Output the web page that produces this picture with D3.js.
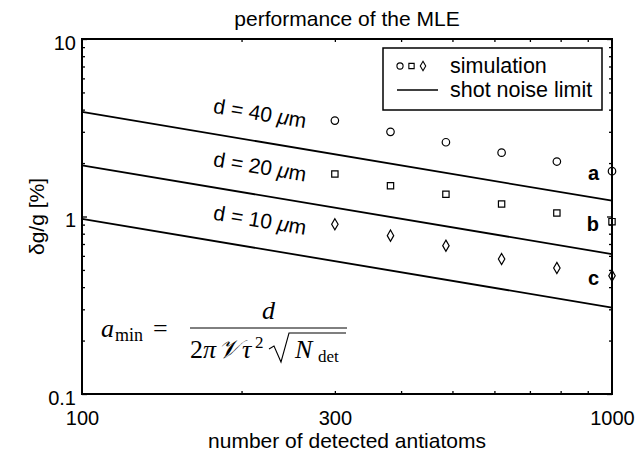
<!DOCTYPE html>
<html>
<head>
<meta charset="utf-8">
<script src="https://cdn.jsdelivr.net/npm/d3@7/dist/d3.min.js"></script>
<style>
  body { margin: 0; background: #fff; }
  svg text { font-family: "Liberation Sans", Arial, Helvetica, sans-serif; fill: #000; }
  svg text.math { font-family: "Liberation Serif", "DejaVu Serif", serif; }
</style>
</head>
<body>
<svg id="chart" width="636" height="454"></svg>
<script>
// ---- data ----
const chartTitle = "performance of the MLE";
const xAxisTitle = "number of detected antiatoms";
const yAxisTitle = "δg/g [%]";

// simulated MLE precision (δg/g in %) vs. number of detected antiatoms
const detectedCounts = [300, 382, 486, 619, 787, 1000];
const simD40 = [3.47, 3.00, 2.62, 2.29, 2.04, 1.80];
const simD20 = [1.735, 1.49, 1.334, 1.176, 1.046, 0.935];
const simD10 = [0.904, 0.780, 0.685, 0.576, 0.513, 0.464];

// shot-noise limit at the ends of the x range
const limitCounts = [100, 1000];
const limitD40 = [3.88, 1.227];
const limitD20 = [1.94, 0.614];
const limitD10 = [0.97, 0.307];

const seriesValues = ["40", "20", "10"];
const seriesTags = ["a", "b", "c"];
const markerShapes = ["circle", "square", "diamond"];

const xTickValues = [100, 300, 1000];
const xTickLabels = ["100", "300", "1000"];
const yTickValues = [0.1, 1, 10];
const yTickLabels = ["0.1", "1", "10"];
const legendLabels = ["simulation", "shot noise limit"];

// ---- layout ----
const svg = d3.select("#chart");
const plot = { left: 82, right: 612, top: 39, bottom: 394 };
const TICK_FONT = 20;
const LABEL_FONT = 21;

const x = d3.scaleLog().domain([100, 1000]).range([plot.left, plot.right]);
const y = d3.scaleLog().domain([0.1, 10]).range([plot.bottom, plot.top]);

const simSeries = [simD40, simD20, simD10];
const limitSeries = [limitD40, limitD20, limitD10];

// minor log ticks
const xMinor = d3.range(2, 10).map(k => k * 100);
const yMinor = [].concat(d3.range(2, 10).map(k => k * 0.1), d3.range(2, 10).map(k => k));

function tickAxis(gen, scale, values, size, transform) {
  svg.append("g")
    .attr("transform", transform)
    .call(gen(scale).tickValues(values).tickSize(size).tickFormat(""))
    .call(g => g.select(".domain").remove())
    .call(g => g.selectAll("line").attr("stroke", "#000").attr("stroke-width", 1.3));
}
// inward ticks on all four sides
tickAxis(d3.axisBottom, x, xMinor, -3, `translate(0,${plot.bottom})`);
tickAxis(d3.axisTop, x, xMinor, -3, `translate(0,${plot.top})`);
tickAxis(d3.axisLeft, y, yMinor, -3, `translate(${plot.left},0)`);
tickAxis(d3.axisRight, y, yMinor, -3, `translate(${plot.right},0)`);
tickAxis(d3.axisLeft, y, yTickValues, -5, `translate(${plot.left},0)`);
tickAxis(d3.axisRight, y, yTickValues, -5, `translate(${plot.right},0)`);

// tick labels
const xAxisG = svg.append("g")
  .attr("transform", `translate(0,${plot.bottom})`)
  .call(d3.axisBottom(x).tickValues(xTickValues).tickSize(0).tickPadding(0)
    .tickFormat((d, i) => xTickLabels[i]));
xAxisG.select(".domain").remove();
xAxisG.selectAll("text").attr("font-size", TICK_FONT).attr("dy", null).attr("y", 31)
  .style("font-family", "'Liberation Sans', Arial, sans-serif");

const yAxisG = svg.append("g")
  .attr("transform", `translate(${plot.left},0)`)
  .call(d3.axisLeft(y).tickValues(yTickValues).tickSize(0).tickPadding(0)
    .tickFormat((d, i) => yTickLabels[i]));
yAxisG.select(".domain").remove();
yAxisG.selectAll("text").attr("font-size", TICK_FONT).attr("x", -6).attr("dy", "0.5em")
  .style("font-family", "'Liberation Sans', Arial, sans-serif");

// shot-noise limit lines
const line = d3.line().x(d => x(d[0])).y(d => y(d[1]));
limitSeries.forEach(vals => {
  svg.append("path")
    .datum(limitCounts.map((n, i) => [n, vals[i]]))
    .attr("d", line)
    .attr("fill", "none")
    .attr("stroke", "#000")
    .attr("stroke-width", 1.8);
});

// marker symbols
const symbolFor = {
  circle: d3.symbol().type(d3.symbolCircle).size(44),
  square: d3.symbol().type(d3.symbolSquare).size(40),
  diamond: d3.symbol().type(d3.symbolDiamond).size(36)
};
simSeries.forEach((vals, s) => {
  svg.append("g").selectAll("path")
    .data(detectedCounts.map((n, i) => [n, vals[i]]))
    .join("path")
    .attr("d", symbolFor[markerShapes[s]]())
    .attr("transform", d => `translate(${x(d[0])},${y(d[1])})`)
    .attr("fill", "none")
    .attr("stroke", "#000")
    .attr("stroke-width", 1.2);
});

// series tags a / b / c beside the last point
simSeries.forEach((vals, s) => {
  const last = vals.length - 1;
  svg.append("text")
    .attr("x", x(detectedCounts[last]) - 13)
    .attr("y", y(vals[last]) + 2)
    .attr("text-anchor", "end")
    .attr("dominant-baseline", "central")
    .attr("font-size", TICK_FONT)
    .attr("font-weight", "bold")
    .text(seriesTags[s]);
});

// d = ... labels, laid along the limit lines
const angle = Math.atan2(y(limitD40[1]) - y(limitD40[0]), x(1000) - x(100)) * 180 / Math.PI;
const labelAt = 215;
limitSeries.forEach((vals, s) => {
  const v = vals[0] * Math.sqrt(limitCounts[0] / labelAt);
  const px = x(labelAt) + 2, py = y(v) - 29;
  const t = svg.append("text")
    .attr("transform", `translate(${px},${py}) rotate(${angle})`)
    .attr("text-anchor", "middle")
    .attr("dominant-baseline", "central")
    .attr("font-size", LABEL_FONT);
  t.append("tspan").text(`d = ${seriesValues[s]} `);
  t.append("tspan").attr("font-style", "italic").text("μ");
  t.append("tspan").text("m");
});

// frame
svg.append("rect")
  .attr("x", plot.left).attr("y", plot.top)
  .attr("width", plot.right - plot.left).attr("height", plot.bottom - plot.top)
  .attr("fill", "none").attr("stroke", "#000").attr("stroke-width", 2);

// legend
const lg = svg.append("g");
lg.append("rect").attr("x", 383).attr("y", 48).attr("width", 219).attr("height", 62)
  .attr("fill", "#fff").attr("stroke", "#000").attr("stroke-width", 1.5);
const smallSym = {
  circle: d3.symbol().type(d3.symbolCircle).size(30),
  square: d3.symbol().type(d3.symbolSquare).size(28),
  diamond: d3.symbol().type(d3.symbolDiamond).size(26)
};
markerShapes.forEach((shape, i) => {
  lg.append("path").attr("d", smallSym[shape]())
    .attr("transform", `translate(${400 + i * 11.5},66)`)
    .attr("fill", "none").attr("stroke", "#000").attr("stroke-width", 1.1);
});
lg.append("line").attr("x1", 397).attr("x2", 438).attr("y1", 90).attr("y2", 90)
  .attr("stroke", "#000").attr("stroke-width", 1.5);
legendLabels.forEach((t, i) => {
  lg.append("text").attr("x", 450).attr("y", 66 + i * 24)
    .attr("dominant-baseline", "central").attr("font-size", 21.5).text(t);
});

// titles
svg.append("text").attr("x", (plot.left + plot.right) / 2).attr("y", 26)
  .attr("text-anchor", "middle").attr("font-size", LABEL_FONT).text(chartTitle);
svg.append("text").attr("x", (plot.left + plot.right) / 2).attr("y", 448)
  .attr("text-anchor", "middle").attr("font-size", LABEL_FONT).text(xAxisTitle);
svg.append("text").attr("transform", `translate(44,${(plot.top + plot.bottom) / 2}) rotate(-90)`)
  .attr("text-anchor", "middle").attr("font-size", LABEL_FONT).text(yAxisTitle);

// shot-noise formula
const fm = svg.append("g");
function mathText(xp, yp, txt, size, italic) {
  return fm.append("text").attr("class", "math")
    .attr("x", xp).attr("y", yp).attr("font-size", size)
    .attr("font-style", italic ? "italic" : "normal").text(txt);
}
mathText(101, 337, "a", 26, true);
mathText(115, 341, "min", 18, false);
mathText(153, 337, "=", 26, false);
fm.append("line").attr("x1", 190).attr("x2", 347).attr("y1", 328).attr("y2", 328)
  .attr("stroke", "#000").attr("stroke-width", 1);
mathText(262, 319, "d", 26, true);
mathText(190, 358, "2", 26, false);
mathText(203, 358, "π", 26, true);
mathText(218, 358, "𝒱", 26, true);
mathText(242, 358, "τ", 26, true);
mathText(255, 348, "2", 17, false);
fm.append("path").attr("d", "M269,349 L274,346 L281,362 L289,333 L346,333")
  .attr("fill", "none").attr("stroke", "#000").attr("stroke-width", 1.1);
mathText(295, 358, "N", 26, true);
mathText(318, 362, "det", 17, false);
</script>
</body>
</html>
